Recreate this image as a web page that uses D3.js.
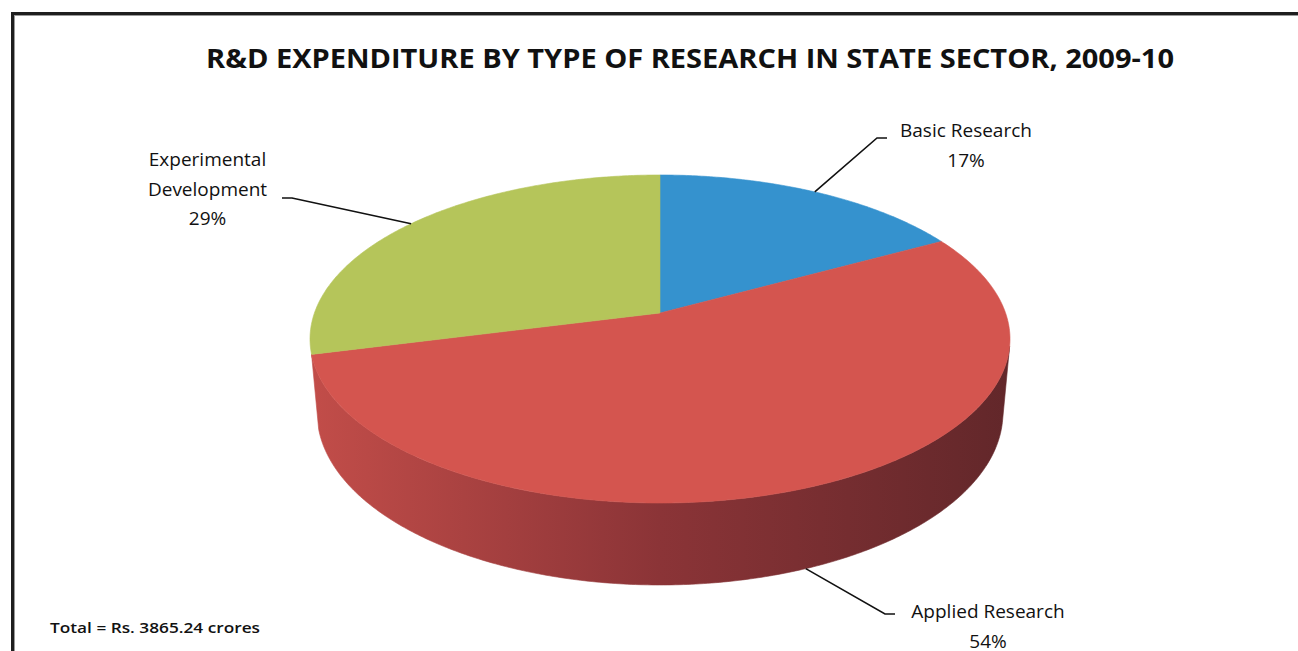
<!DOCTYPE html>
<html>
<head>
<meta charset="utf-8">
<script src="https://cdn.jsdelivr.net/npm/d3@7"></script>
<style>
  html, body { margin: 0; padding: 0; background: #ffffff; }
  svg { display: block; }
  text { font-family: "Open Sans", "Lato", sans-serif; fill: #111; }
</style>
</head>
<body>
<svg id="chart" width="1298" height="651"></svg>
<script>
// ---- data ----
const categories = ["Basic Research", "Applied Research", "Experimental Development"];
const shares = [17, 54, 29];               // per cent of total
const labelLines = [["Basic Research"], ["Applied Research"], ["Experimental", "Development"]];
const titleText = "R&D EXPENDITURE BY TYPE OF RESEARCH IN STATE SECTOR, 2009-10";
const noteText = "Total = Rs. 3865.24 crores";

// ---- styling ----
const topColors = ["#3592CE", "#D4554F", "#B5C55A"];
const sideStops = [
  { o: 0, c: ["#2C7AAE", "#C24D49", "#98A64A"] },
  { o: 0.5, c: ["#22618C", "#8B3437", "#7B873B"] },
  { o: 1, c: ["#1A4C6E", "#62272A", "#5E682D"] }
];

const svg = d3.select("#chart");
const W = 1298, H = 651;

// frame
svg.append("line").attr("x1", 12.5).attr("x2", 12.5).attr("y1", 13).attr("y2", H)
  .attr("stroke", "#1e1e1e").attr("stroke-width", 3);
svg.append("line").attr("x1", 11).attr("x2", W).attr("y1", 13.5).attr("y2", 13.5)
  .attr("stroke", "#1e1e1e").attr("stroke-width", 3);
svg.append("line").attr("x1", 14).attr("x2", W).attr("y1", 15.5).attr("y2", 15.5)
  .attr("stroke", "#9a9a9a").attr("stroke-width", 1);
svg.append("line").attr("x1", 14.5).attr("x2", 14.5).attr("y1", 15).attr("y2", H)
  .attr("stroke", "#9a9a9a").attr("stroke-width", 1);

// title
svg.append("text").attr("x", 690).attr("y", 68).attr("text-anchor", "middle")
  .attr("font-weight", 700).attr("font-size", 26.5)
  .attr("textLength", 968).attr("lengthAdjust", "spacingAndGlyphs")
  .text(titleText);

// ---- perspective view of a unit disc ----
const view = {
  ox: 660, oy: 313,           // screen position of the disc centre
  sinT: 0.4627, cosT: 0.8865, // camera elevation
  dist: 5.592, focal: 1932.4,
  depth: 0.243                // thickness of the disc
};
function project(a, r, z) {
  const x = r * Math.sin(a), y = -r * Math.cos(a);   // y > 0 is toward the viewer
  const d = view.dist - y * view.cosT - z * view.sinT;
  return [view.ox + x * view.focal / d,
          view.oy + (y * view.sinT - z * view.cosT) * view.focal / d];
}
// rim faces the camera where y > 1/(dist*cos)
const visLimit = Math.acos(-1 / (view.dist * view.cosT)); // angle from top
const visStart = visLimit, visEnd = 2 * Math.PI - visLimit;
const minSideSpan = 0.06; // skip hairline slivers of rim

const pie = d3.pie().sort(null).value(d => d)
  .startAngle(0).endAngle(2 * Math.PI);
const arcs = pie(shares);

function rimPoints(a0, a1, z) {
  const n = Math.max(2, Math.ceil((a1 - a0) / 0.01));
  return d3.range(n + 1).map(i => project(a0 + (a1 - a0) * i / n, 1, z));
}
const line = d3.line().curve(d3.curveLinear);

// gradients for the sides
const defs = svg.append("defs");
arcs.forEach((d, i) => {
  const g = defs.append("linearGradient").attr("id", "side" + i)
    .attr("gradientUnits", "userSpaceOnUse")
    .attr("x1", view.ox - 350).attr("x2", view.ox + 350).attr("y1", 0).attr("y2", 0);
  sideStops.forEach(s => g.append("stop").attr("offset", s.o).attr("stop-color", s.c[i]));
});

// sides (visible part of the rim)
const sides = svg.append("g");
arcs.forEach((d, i) => {
  const a0 = Math.max(d.startAngle, visStart), a1 = Math.min(d.endAngle, visEnd);
  if (a1 - a0 < minSideSpan) return;
  const pts = rimPoints(a0, a1, 0).concat(rimPoints(a0, a1, -view.depth).reverse());
  sides.append("path").attr("d", line(pts) + "Z").attr("fill", `url(#side${i})`)
    .attr("stroke", `url(#side${i})`).attr("stroke-width", 0.6);
});

// top faces
const tops = svg.append("g");
arcs.forEach((d, i) => {
  const pts = [project(0, 0, 0)].concat(rimPoints(d.startAngle, d.endAngle, 0));
  tops.append("path").attr("d", line(pts) + "Z").attr("fill", topColors[i])
    .attr("stroke", topColors[i]).attr("stroke-width", 0.6);
});

// ---- labels with leader lines ----
const labelLayout = [
  { rimZ: 0, elbow: [877, 138], end: [887, 138], tx: 966, ty: 137 },
  { rimZ: -1, elbow: [885, 614], end: [895, 614], tx: 988, ty: 618 },
  { rimZ: 0, elbow: [292, 198], end: [282, 198], tx: 207.5, ty: 166 }
];
const lineGap = 29.5;
const labels = svg.append("g");
arcs.forEach((d, i) => {
  const L = labelLayout[i];
  const mid = (d.startAngle + d.endAngle) / 2;
  const p = project(mid, 1, L.rimZ * view.depth);
  labels.append("path").attr("d", line([p, L.elbow, L.end]))
    .attr("fill", "none").attr("stroke", "#111").attr("stroke-width", 1.6);
  const t = labels.append("text").attr("text-anchor", "middle").attr("font-size", 19);
  const rows = labelLines[i].concat([d3.format(".0f")(d.data) + "%"]);
  rows.forEach((r, k) => t.append("tspan").attr("x", L.tx).attr("y", L.ty + k * lineGap).text(r));
});

// footnote
svg.append("text").attr("x", 50).attr("y", 633).attr("font-size", 15).attr("font-weight", 600)
  .attr("textLength", 210).attr("lengthAdjust", "spacingAndGlyphs")
  .text(noteText);
</script>
</body>
</html>
